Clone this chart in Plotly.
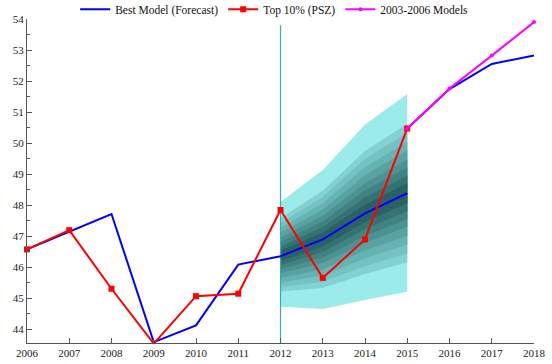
import plotly.graph_objects as go

# Best model: historical fit + forecast, then a second run after 2015
blue_years = [2006, 2007, 2008, 2009, 2010, 2011, 2012, 2013, 2014, 2015, None, 2015, 2016, 2017, 2018]
blue_values = [46.57, 47.14, 47.71, 43.58, 44.12, 46.08, 46.35, 46.89, 47.73, 48.38, None, 50.47, 51.74, 52.55, 52.82]

# Top 10% income share (PSZ)
red_years = [2006, 2007, 2008, 2009, 2010, 2011, 2012, 2013, 2014, 2015]
red_values = [46.57, 47.19, 45.30, 43.53, 45.06, 45.14, 47.84, 45.65, 46.89, 50.47]

# 2003-2006 models
mag_years = [2015, 2016, 2017, 2018]
mag_values = [50.47, 51.76, 52.82, 53.90]

# Forecast fan: centre, outer upper / lower limits
fan_years = [2012, 2013, 2014, 2015]
fan_center = [46.35, 46.89, 47.73, 48.38]
fan_upper = [48.10, 49.13, 50.60, 51.58]
fan_lower = [44.72, 44.65, 44.94, 45.20]
band_fracs = [1.0, 0.70, 0.61, 0.52, 0.43, 0.34, 0.26, 0.18, 0.10]
band_colors = ["#9BEBEB", "#82D2D2", "#74C2C2", "#67B2B2", "#5AA2A2", "#4D9292",
               "#418282", "#357272", "#2A6262"]

forecast_start = 2012
x_ticks = list(range(2006, 2019))
y_ticks = list(range(44, 55))

SERIF = "Liberation Serif"

fig = go.Figure()

# fan bands, outermost first
for frac, col in zip(band_fracs, band_colors):
    up = [c + frac * (u - c) for c, u in zip(fan_center, fan_upper)]
    lo = [c - frac * (c - l) for c, l in zip(fan_center, fan_lower)]
    fig.add_trace(go.Scatter(
        x=fan_years + fan_years[::-1], y=up + lo[::-1],
        fill="toself", fillcolor=col, mode="lines",
        line=dict(width=0, color=col), hoverinfo="skip", showlegend=False,
    ))

# forecast start marker line
fig.add_trace(go.Scatter(
    x=[forecast_start, forecast_start], y=[43.55, 53.8], mode="lines",
    line=dict(color="#3AABA6", width=1.2), showlegend=False, hoverinfo="skip",
))

fig.add_trace(go.Scatter(
    x=blue_years, y=blue_values, mode="lines", name="Best Model (Forecast)",
    line=dict(color="#0000FF", width=2), cliponaxis=False,
))
fig.add_trace(go.Scatter(
    x=red_years, y=red_values, mode="lines+markers", name="Top 10% (PSZ)",
    line=dict(color="#FF0000", width=2),
    marker=dict(symbol="square", size=6, color="#FF0000"), cliponaxis=False,
))
fig.add_trace(go.Scatter(
    x=mag_years, y=mag_values, mode="lines+markers", name="2003-2006 Models",
    line=dict(color="#FF00FF", width=2),
    marker=dict(symbol="circle", size=4, color="#FF00FF"), cliponaxis=False,
))

fig.update_layout(
    width=552, height=364,
    margin=dict(l=27, r=18, t=19, b=21, autoexpand=False),
    paper_bgcolor="white", plot_bgcolor="white",
    font=dict(family=SERIF, size=11, color="#222"),
    legend=dict(
        orientation="h", x=0.095, xanchor="left", y=1.075, yanchor="top",
        font=dict(family=SERIF, size=11.5, color="#111"),
        bgcolor="rgba(0,0,0,0)", itemwidth=30, tracegroupgap=0,
    ),
    showlegend=True,
)
fig.update_xaxes(
    range=[2006, 2018], tickvals=x_ticks, ticks="inside", ticklen=5,
    tickcolor="#555", showline=True, linecolor="#555", linewidth=1,
    showgrid=False, zeroline=False, tickfont=dict(family=SERIF, size=11, color="#222"),
)
fig.update_yaxes(
    range=[43.55, 54.0], tickvals=y_ticks, ticks="inside", ticklen=5,
    tickcolor="#555", showline=True, linecolor="#555", linewidth=1,
    showgrid=False, zeroline=False, tickfont=dict(family=SERIF, size=11, color="#222"),
    minor=dict(tickvals=[v + 0.5 for v in y_ticks[:-1]], ticks="inside", ticklen=3, tickcolor="#555"),
)

fig.write_html("out.html")
